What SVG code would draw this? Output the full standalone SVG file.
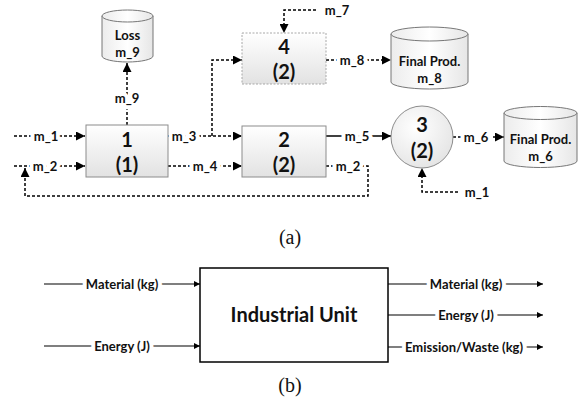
<svg xmlns="http://www.w3.org/2000/svg" width="581" height="405" viewBox="0 0 581 405">
<defs>
<linearGradient id="gBox" x1="0" y1="0" x2="0" y2="1"><stop offset="0" stop-color="#ffffff"/><stop offset="1" stop-color="#e2e2e2"/></linearGradient>
<linearGradient id="gCyl" x1="0" y1="0" x2="1" y2="0"><stop offset="0" stop-color="#ececec"/><stop offset="0.5" stop-color="#ffffff"/><stop offset="1" stop-color="#e6e6e6"/></linearGradient>
<radialGradient id="gCirc" cx="0.4" cy="0.35" r="0.7"><stop offset="0" stop-color="#ffffff"/><stop offset="1" stop-color="#e4e4e4"/></radialGradient>
<marker id="arA" viewBox="0 0 10 10" refX="10" refY="5" markerWidth="11" markerHeight="9" markerUnits="userSpaceOnUse" orient="auto"><path d="M0,0 L10,5 L0,10 z" fill="#000"/></marker>
<marker id="arB" viewBox="0 0 10 10" refX="10" refY="5" markerWidth="9" markerHeight="6" markerUnits="userSpaceOnUse" orient="auto"><path d="M0,0 L10,5 L0,10 z" fill="#000"/></marker>
</defs>
<style>
.node{fill:url(#gBox);stroke:#8c8c8c;stroke-width:1}
.node4{fill:url(#gBox);stroke:#a8a8a8;stroke-width:1;stroke-dasharray:2,1.5}
.cyl{fill:url(#gCyl);stroke:#777;stroke-width:1}
.circ{fill:url(#gCirc);stroke:#8c8c8c;stroke-width:1}
.big{font-family:Lato,"Open Sans",sans-serif;font-weight:bold;font-size:20px;fill:#111;text-anchor:middle}
.lbl{font-family:Lato,"Open Sans",sans-serif;font-weight:bold;font-size:13px;fill:#111;text-anchor:middle;dominant-baseline:central}
.halo{stroke:#fff;stroke-width:8;stroke-linejoin:round;paint-order:stroke}
.cl{font-family:Lato,"Open Sans",sans-serif;font-weight:bold;font-size:13px;fill:#111;text-anchor:middle}
.dash{fill:none;stroke:#000;stroke-width:1.5;stroke-dasharray:3,2}
.solid{fill:none;stroke:#000;stroke-width:1.5}
.bl{fill:none;stroke:#000;stroke-width:1.2}
.cap{font-family:"Liberation Serif",serif;font-size:20px;fill:#111;text-anchor:middle}
.bt{font-family:Lato,"Open Sans",sans-serif;font-weight:bold;font-size:13px;fill:#111;text-anchor:middle;dominant-baseline:central}
</style>

<g id="connectors">
<line class="dash" x1="14" y1="136" x2="85" y2="136" marker-end="url(#arA)"/>
<line class="dash" x1="14" y1="166" x2="85" y2="166" marker-end="url(#arA)"/>
<line class="dash" x1="127" y1="125" x2="127" y2="63" marker-end="url(#arA)"/>
<line class="dash" x1="168" y1="136" x2="242" y2="136" marker-end="url(#arA)"/>
<path class="dash" d="M212,136 V60 H242" marker-end="url(#arA)"/>
<line class="dash" x1="168" y1="166" x2="242" y2="166" marker-end="url(#arA)"/>
<path class="dash" d="M316,10 H284 V33" marker-end="url(#arA)"/>
<line class="dash" x1="326" y1="60" x2="391" y2="60" marker-end="url(#arA)"/>
<line class="solid" x1="326" y1="136" x2="391" y2="136" marker-end="url(#arA)"/>
<line class="dash" x1="453" y1="137" x2="504" y2="137" marker-end="url(#arA)"/>
<path class="dash" d="M458,192 H422 V168" marker-end="url(#arA)"/>
<path class="dash" d="M326,166 H368 V196 H25 V168" marker-end="url(#arA)"/>

<text class="lbl halo" x="46" y="136">m_1</text>
<text class="lbl halo" x="45" y="166">m_2</text>
<text class="lbl halo" x="127" y="98">m_9</text>
<text class="lbl halo" x="184" y="136">m_3</text>
<text class="lbl halo" x="205" y="166">m_4</text>
<text class="lbl" x="337" y="10">m_7</text>
<text class="lbl halo" x="352" y="60">m_8</text>
<text class="lbl halo" x="357" y="136">m_5</text>
<text class="lbl halo" x="348" y="166">m_2</text>
<text class="lbl halo" x="476" y="137">m_6</text>
<text class="lbl" x="477" y="192">m_1</text>

<line class="bl" x1="44" y1="284" x2="200" y2="284" marker-end="url(#arB)"/>
<line class="bl" x1="44" y1="346" x2="200" y2="346" marker-end="url(#arB)"/>
<line class="bl" x1="388" y1="284" x2="543" y2="284" marker-end="url(#arB)"/>
<line class="bl" x1="388" y1="315" x2="543" y2="315" marker-end="url(#arB)"/>
<line class="bl" x1="388" y1="347" x2="543" y2="347" marker-end="url(#arB)"/>
<text class="bt halo" x="122" y="284">Material (kg)</text>
<text class="bt halo" x="122" y="346">Energy (J)</text>
<text class="bt halo" x="466" y="284">Material (kg)</text>
<text class="bt halo" x="466" y="315">Energy (J)</text>
<text class="bt halo" x="464" y="347">Emission/Waste (kg)</text>
</g>

<g id="node1">
<rect class="node" x="86" y="125" width="82" height="52"/>
<text class="big" x="127" y="147">1</text>
<text class="big" x="127" y="172">(1)</text>
</g>
<g id="node2">
<rect class="node" x="242" y="126" width="84" height="51"/>
<text class="big" x="284" y="147">2</text>
<text class="big" x="284" y="172">(2)</text>
</g>
<g id="node4">
<rect class="node4" x="242" y="33" width="84" height="51"/>
<text class="big" x="284" y="54">4</text>
<text class="big" x="284" y="79">(2)</text>
</g>
<g id="node3">
<circle class="circ" cx="422" cy="137" r="31"/>
<text class="big" x="422" y="132">3</text>
<text class="big" x="422" y="158">(2)</text>
</g>
<g id="loss">
<path class="cyl" d="M102,16 V56 A25.5,6 0 0 0 153,56 V16 A25.5,6 0 0 0 102,16 Z"/>
<path class="cyl" d="M102,16 A25.5,6 0 0 0 153,16" fill="none"/>
<text class="cl" x="127.5" y="40">Loss</text>
<text class="cl" x="127.5" y="57">m_9</text>
</g>
<g id="final8">
<path class="cyl" d="M391,34 V82 A38.5,7 0 0 0 468,82 V34 A38.5,7 0 0 0 391,34 Z"/>
<path class="cyl" d="M391,34 A38.5,7 0 0 0 468,34" fill="none"/>
<text class="cl" x="429.5" y="66">Final Prod.</text>
<text class="cl" x="429.5" y="83">m_8</text>
</g>
<g id="final6">
<path class="cyl" d="M504,113 V161 A36.5,6.5 0 0 0 577,161 V113 A36.5,6.5 0 0 0 504,113 Z"/>
<path class="cyl" d="M504,113 A36.5,6.5 0 0 0 577,113" fill="none"/>
<text class="cl" x="540.5" y="144">Final Prod.</text>
<text class="cl" x="540.5" y="161">m_6</text>
</g>
<text class="cap" x="290" y="244">(a)</text>

<g id="industrial">
<rect x="200" y="268" width="188" height="94" fill="#fff" stroke="#000" stroke-width="1.5"/>
<text x="294" y="322" font-family="Lato,'Open Sans',sans-serif" font-weight="bold" font-size="20px" fill="#111" text-anchor="middle">Industrial Unit</text>
</g>
<text class="cap" x="290" y="392">(b)</text>
</svg>
